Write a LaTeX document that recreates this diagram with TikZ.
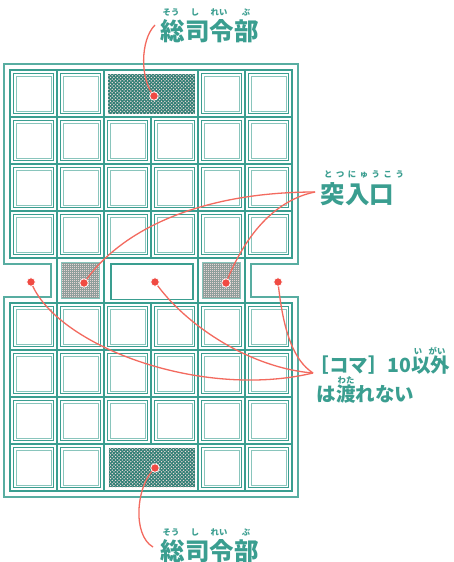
\documentclass[tikz,border=0pt]{standalone}
\usepackage{fontspec}
\newfontfamily\jp{Noto Sans CJK JP}
\usetikzlibrary{patterns}
\definecolor{tl}{HTML}{3A9E90}
\definecolor{rd}{HTML}{F04A42}
\definecolor{rdl}{HTML}{F36A5F}
\definecolor{hq}{HTML}{2F7E74}
\definecolor{hqdot}{HTML}{F2DCDC}
\definecolor{gbg}{HTML}{E6D4D4}
\definecolor{ggr}{HTML}{8E9E9B}
\pgfdeclarepatternformonly{hqdots}{\pgfpoint{-1pt}{-1pt}}{\pgfpoint{4.4pt}{4.4pt}}{\pgfpoint{3.4pt}{3.4pt}}{%
  \pgfpathcircle{\pgfqpoint{0pt}{0pt}}{0.75pt}%
  \pgfpathcircle{\pgfqpoint{1.7pt}{1.7pt}}{0.75pt}%
  \pgfusepath{fill}}
\pgfdeclarepatternformonly{fgrid}{\pgfpoint{-0.1pt}{-0.1pt}}{\pgfpoint{2.1pt}{2.1pt}}{\pgfpoint{2pt}{2pt}}{%
  \pgfsetlinewidth{0.45pt}%
  \pgfpathmoveto{\pgfqpoint{0pt}{1pt}}\pgfpathlineto{\pgfqpoint{2pt}{1pt}}%
  \pgfpathmoveto{\pgfqpoint{1pt}{0pt}}\pgfpathlineto{\pgfqpoint{1pt}{2pt}}%
  \pgfusepath{stroke}}
\newcommand\bcell[4]{%
  \draw[cella] ({#1+3.5},{#2+3.5}) rectangle ({#3-3.5},{#4-3.5});
  \draw[cellb] ({#1+5.8},{#2+5.8}) rectangle ({#3-5.8},{#4-5.8});}
\newcommand\rs{\hspace{3.6pt}}
\begin{document}
\begin{tikzpicture}[x=1pt,y=-1pt,
  frame/.style={draw=tl,line width=2.7pt},
  outerl/.style={draw=tl!85,line width=1.1pt},
  cella/.style={draw=tl,line width=0.9pt},
  cellb/.style={draw=tl!60,line width=0.5pt},
  rline/.style={draw=rdl,line width=1.3pt},
  dot/.style={circle,fill=rd,draw=white,line width=0.8pt,minimum size=8.5pt,inner sep=0pt},
  lbl/.style={text=tl,inner sep=0pt,font=\jp\bfseries\fontsize{24.5}{26}\selectfont},
  lblm/.style={text=tl,inner sep=0pt,font=\jp\bfseries\fontsize{19.5}{21}\selectfont},
  ruby/.style={text=tl,inner sep=0pt,font=\jp\bfseries\fontsize{8.3}{9}\selectfont}]
\useasboundingbox (0,0) rectangle (453,562);
\fill[white] (0,0) rectangle (453,562);

% outer thin border
\draw[outerl] (4,64) -- (298,64) -- (298,264) -- (251,264) -- (251,297) -- (298,297)
  -- (298,497) -- (4,497) -- (4,297) -- (51,297) -- (51,264) -- (4,264) -- cycle;

% cells
\foreach \r in {1,2,3}{\foreach \c in {0,...,5}{\bcell{10+47*\c}{70+47*\r}{57+47*\c}{117+47*\r}}}
\foreach \c in {0,1,4,5}{\bcell{10+47*\c}{70}{57+47*\c}{117}}
\foreach \r in {0,1,2}{\foreach \c in {0,...,5}{\bcell{10+47*\c}{303+47*\r}{57+47*\c}{350+47*\r}}}
\foreach \c in {0,1,4,5}{\bcell{10+47*\c}{444}{57+47*\c}{491}}

% headquarters
\fill[hq] (108,74) rectangle (194.5,113.5);
\fill[pattern=hqdots,pattern color=hqdot] (108,74) rectangle (194.5,113.5);
\fill[hq] (108.5,447.5) rectangle (195,487);
\fill[pattern=hqdots,pattern color=hqdot] (108.5,447.5) rectangle (195,487);

% entrance cells
\foreach \x in {61.5,202.5}{
  \fill[gbg] (\x,262.5) rectangle ({\x+38},298.5);
  \fill[pattern=fgrid,pattern color=ggr] (\x,262.5) rectangle ({\x+38},298.5);
  \draw[cellb] (\x,262.5) rectangle ({\x+38},298.5);
}

% middle impassable area
\draw[draw=tl,line width=1.7pt] (111,264) rectangle (193,299.5);

% thick frame
\draw[frame] (10,70) rectangle (292,258);
\draw[frame] (10,303) rectangle (292,491);
\foreach \x in {57,104,198,245} \draw[frame] (\x,70) -- (\x,491);
\draw[frame] (151,117) -- (151,258);
\draw[frame] (151,303) -- (151,444);
\foreach \y in {117,164,211,350,397,444} \draw[frame] (10,\y) -- (292,\y);

% points
\coordinate (p1) at (154,96);
\coordinate (p2) at (155,468);
\coordinate (p3) at (84,283);
\coordinate (p4) at (226,283);
\coordinate (p5) at (31,282);
\coordinate (p6) at (155,282);
\coordinate (p7) at (278,282);
\coordinate (t1) at (315,192);
\coordinate (t2) at (313,373);
\coordinate (t3) at (155,25);
\coordinate (t4) at (153,547);

% red connectors
\draw[rline] (p1) .. controls (140,80) and (140,40) .. (t3);
\draw[rline] (p2) .. controls (136,485) and (132,535) .. (t4);
\draw[rline] (p3) .. controls (120,230) and (200,192) .. (t1);
\draw[rline] (p4) .. controls (245,235) and (275,200) .. (t1);
\draw[rline] (p5) .. controls (55,345) and (200,400) .. (t2);
\draw[rline] (p6) .. controls (185,325) and (250,368) .. (t2);
\draw[rline] (p7) .. controls (283,330) and (293,360) .. (t2);

\node[dot] (d1) at (p1) {};
\node[dot] (d2) at (p2) {};
\node[dot] (d3) at (p3) {};
\node[dot] (d4) at (p4) {};
\node[dot] (d5) at (p5) {};
\node[dot] (d6) at (p6) {};
\node[dot] (d7) at (p7) {};

% labels
\node[lbl] (hq1) at (209.5,31) {総司令部};
\node[ruby] (r1a) at (171,12.5) {そう};
\node[ruby] (r1b) at (195,12.5) {し};
\node[ruby] (r1c) at (219,12.5) {れい};
\node[ruby] (r1d) at (246,12.5) {ぶ};

\node[lbl] (hq2) at (209.5,551) {総司令部};
\node[ruby] (r2a) at (171,532) {そう};
\node[ruby] (r2b) at (195,532) {し};
\node[ruby] (r2c) at (219,532) {れい};
\node[ruby] (r2d) at (246,532) {ぶ};

\node[lbl] (tn) at (357.5,194) {突入口};
\node[ruby] (tr) at (364,175) {と\rs つ\rs に\rs ゅ\rs う\rs こ\rs う};

\node[lblm,anchor=west] (k1) at (309.5,365.5) {［コマ］10以外};
\node[lblm,anchor=west] (k2) at (316.5,394.5) {は渡れない};
\node[ruby] (k1a) at (418,351.5) {い};
\node[ruby] (k1b) at (437,351.5) {がい};
\node[ruby] (k2a) at (346,380.5) {わた};
\end{tikzpicture}
\end{document}
